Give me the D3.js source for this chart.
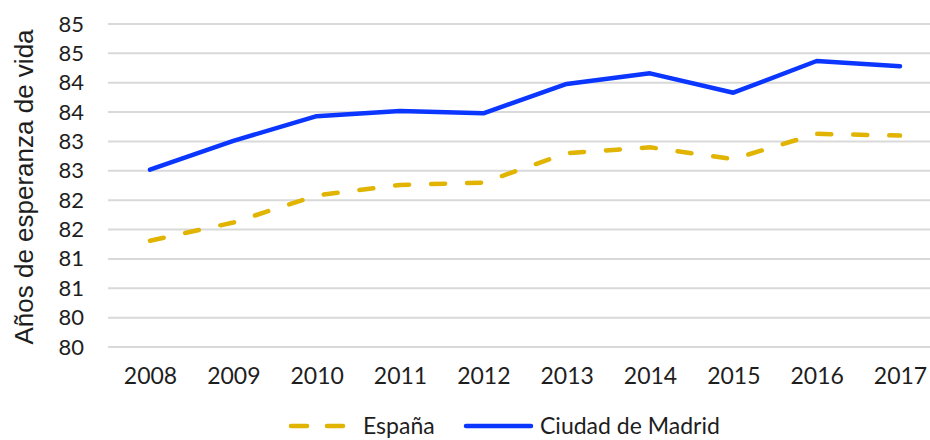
<!DOCTYPE html>
<html>
<head>
<meta charset="utf-8">
<script src="https://cdn.jsdelivr.net/npm/d3@7"></script>
<style>
  body { margin: 0; background: #fff; }
  svg { display: block; }
</style>
</head>
<body>
<div id="chart"></div>
<script>
let w = 930;
let h = 440;

// data
let years = ["2008","2009","2010","2011","2012","2013","2014","2015","2016","2017"];
let espana = [81.81, 82.12, 82.58, 82.76, 82.80, 83.30, 83.40, 83.20, 83.63, 83.60];
let madrid = [83.02, 83.51, 83.93, 84.02, 83.98, 84.48, 84.66, 84.33, 84.87, 84.78];
let yTicks = [80, 80.5, 81, 81.5, 82, 82.5, 83, 83.5, 84, 84.5, 85, 85.5];
let yTickLabels = ["80","80","81","81","82","82","83","83","84","84","85","85"];

let margin = {left: 108, top: 24, bottom: 93};
let textFont = "Lato, 'Open Sans', sans-serif";
let textCol = "#1e1e1e";

let svg = d3.select("#chart").append("svg")
  .attr("width", w)
  .attr("height", h);

let xScale = d3.scalePoint()
  .domain(years)
  .range([150, 900]);

let yScale = d3.scaleLinear()
  .domain([80, 85.5])
  .range([h - margin.bottom, margin.top]);

// gridlines
svg.append("g").selectAll("line").data(yTicks).enter()
  .append("line")
    .attr("x1", margin.left)
    .attr("x2", w)
    .attr("y1", d => yScale(d))
    .attr("y2", d => yScale(d))
    .attr("stroke", "#d9d9d9")
    .attr("stroke-width", 2)
;

// y axis labels
let yAxis = d3.axisLeft(yScale)
  .tickValues(yTicks)
  .tickFormat((d, i) => yTickLabels[i])
  .tickSize(0)
  .tickPadding(0);

let gy = svg.append("g")
  .attr("transform", "translate(84,0)")
  .call(yAxis);
gy.select(".domain").remove();
gy.selectAll("text")
  .attr("font-family", textFont)
  .attr("font-size", 22)
  .attr("fill", textCol);

// x axis labels
let xAxis = d3.axisBottom(xScale).tickSize(0).tickPadding(0);
let gx = svg.append("g")
  .attr("transform", "translate(0,368)")
  .call(xAxis);
gx.select(".domain").remove();
gx.selectAll("text")
  .attr("font-family", textFont)
  .attr("font-size", 23)
  .attr("fill", textCol);

// axis title
svg.append("text")
  .attr("transform", "translate(33,187) rotate(-90)")
  .attr("text-anchor", "middle")
  .attr("font-family", "'Liberation Sans', Arial, sans-serif")
  .attr("font-size", 26)
  .attr("fill", textCol)
  .text("Años de esperanza de vida");

let line = d3.line()
  .x((d, i) => xScale(years[i]))
  .y(d => yScale(d));

let gold = "#e0b400";
let blue = "#0a36ff";

svg.append("path")
  .datum(espana)
  .attr("d", line)
  .attr("fill", "none")
  .attr("stroke", gold)
  .attr("stroke-width", 4.5)
  .attr("stroke-linecap", "round")
  .attr("stroke-dasharray", "14,22");

svg.append("path")
  .datum(madrid)
  .attr("d", line)
  .attr("fill", "none")
  .attr("stroke", blue)
  .attr("stroke-width", 4.5)
  .attr("stroke-linecap", "round")
  .attr("stroke-linejoin", "round");

// legend
let legend = svg.append("g").attr("transform", "translate(0,426)");
legend.append("line")
  .attr("x1", 291).attr("x2", 343)
  .attr("stroke", gold)
  .attr("stroke-width", 4.5)
  .attr("stroke-linecap", "round")
  .attr("stroke-dasharray", "16,20");
legend.append("text")
  .attr("x", 363).attr("y", 8)
  .attr("font-family", textFont)
  .attr("font-size", 23)
  .attr("fill", textCol)
  .text("España");
legend.append("line")
  .attr("x1", 466).attr("x2", 531)
  .attr("stroke", blue)
  .attr("stroke-width", 4.5)
  .attr("stroke-linecap", "round");
legend.append("text")
  .attr("x", 540).attr("y", 8)
  .attr("font-family", textFont)
  .attr("font-size", 23)
  .attr("fill", textCol)
  .text("Ciudad de Madrid");
</script>
</body>
</html>
